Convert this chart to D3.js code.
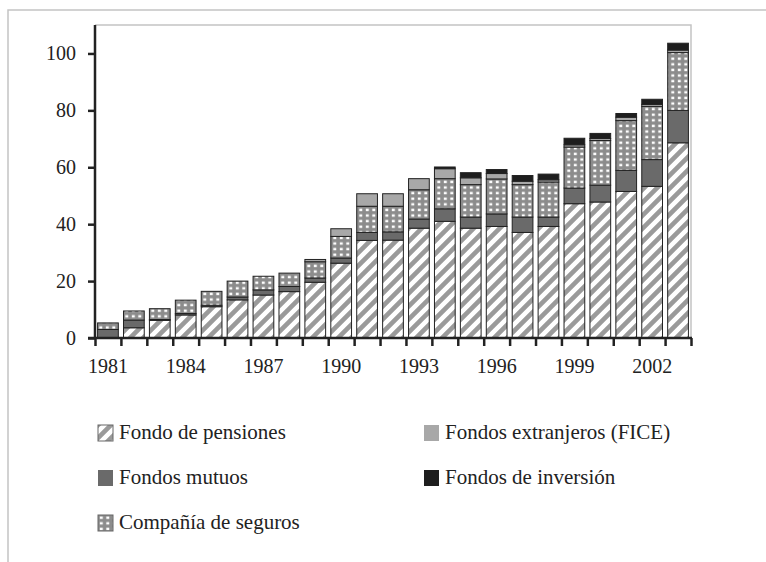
<!DOCTYPE html>
<html>
<head>
<meta charset="utf-8">
<script src="https://cdn.jsdelivr.net/npm/d3@7"></script>
<style>
  body { margin: 0; background: #fff; }
  svg { display: block; font-family: "Liberation Serif", "Times New Roman", serif; }
</style>
</head>
<body>
<svg></svg>
<script>
let width = 766, height = 562;

let svg = d3.select("svg")
    .attr("width", width)
    .attr("height", height)
    .attr("viewBox", "0 0 " + width + " " + height)

// data (approx.)
var years = d3.range(1981, 2004)
var pensiones = [0, 3.6, 6.2, 8.1, 11.0, 13.4, 15.1, 16.3, 19.6, 26.3, 34.3, 34.4, 38.6, 41.0, 38.6, 39.2, 37.1, 39.2, 47.2, 47.8, 51.5, 53.3, 68.6]
var mutuos = [3.0, 2.7, 0.3, 0.5, 0.5, 1.0, 1.8, 1.8, 1.5, 1.8, 2.8, 2.9, 3.2, 4.4, 3.9, 4.4, 5.4, 3.3, 5.5, 5.9, 7.4, 9.4, 11.4]
var seguros = [2.3, 3.2, 3.8, 4.7, 4.9, 5.6, 4.8, 4.7, 5.7, 7.6, 9.2, 9.0, 10.3, 10.6, 11.4, 12.3, 11.4, 12.3, 14.4, 15.7, 17.5, 18.7, 20.3]
var fice = [0, 0, 0, 0, 0, 0, 0, 0, 0.8, 2.7, 4.4, 4.4, 3.9, 3.5, 2.4, 1.9, 1.2, 0.8, 0.8, 0.7, 1.2, 0.7, 0.9]
var inversion = [0, 0, 0, 0, 0, 0, 0, 0, 0, 0, 0, 0, 0, 0.6, 1.8, 1.4, 2.0, 2.0, 2.3, 1.8, 1.3, 1.8, 2.4]

var yTicks = [0, 20, 40, 60, 80, 100]
var yearLabels = [1981, 1984, 1987, 1990, 1993, 1996, 1999, 2002]

var seriesKeys = ["pensiones", "mutuos", "seguros", "fice", "inversion"]
var seriesNames = {
    pensiones: "Fondo de pensiones",
    mutuos: "Fondos mutuos",
    seguros: "Compañía de seguros",
    fice: "Fondos extranjeros (FICE)",
    inversion: "Fondos de inversión"
}
var fills = {
    pensiones: "url(#hatch)",
    mutuos: "#6a6a6a",
    seguros: "url(#dots)",
    fice: "#a8a8a8",
    inversion: "#1e1e1e"
}

let table = years.map((yr, i) => ({
    year: yr,
    pensiones: pensiones[i],
    mutuos: mutuos[i],
    seguros: seguros[i],
    fice: fice[i],
    inversion: inversion[i]
}))

// patterns
let defs = svg.append("defs")
let hatch = defs.append("pattern")
    .attr("id", "hatch")
    .attr("patternUnits", "userSpaceOnUse")
    .attr("width", 13).attr("height", 13)
hatch.append("rect").attr("width", 13).attr("height", 13).attr("fill", "#fff")
hatch.append("path")
    .attr("d", "M-3,3 l6,-6 M0,13 l13,-13 M10,16 l6,-6")
    .attr("stroke", "#9a9a9a")
    .attr("stroke-width", 4.6)

let dots = defs.append("pattern")
    .attr("id", "dots")
    .attr("patternUnits", "userSpaceOnUse")
    .attr("width", 6.5).attr("height", 5.6)
dots.append("rect").attr("width", 6.5).attr("height", 5.6).attr("fill", "#8c8c8c")
dots.append("rect").attr("x", 1.8).attr("y", 1.5).attr("width", 3).attr("height", 2.4).attr("fill", "#fff")

// frame
svg.append("path")
    .attr("d", "M8,562 V10 H766")
    .attr("fill", "none")
    .attr("stroke", "#c4c4c4")
    .attr("stroke-width", 1.5)

let pLeft = 95, pRight = 691, pTop = 25, pBottom = 338

var x = d3.scaleBand()
    .domain(years)
    .range([pLeft, pRight])
    .paddingInner(0.2)
    .paddingOuter(0.1)

var xEdges = d3.scaleLinear()
    .domain([0, years.length])
    .range([pLeft, pRight])

var y = d3.scaleLinear()
    .domain([0, 110])
    .range([pBottom, pTop])

// plot box (light)
svg.append("path")
    .attr("d", "M" + pLeft + "," + pTop + " H" + pRight + " V" + pBottom)
    .attr("fill", "none")
    .attr("stroke", "#c4c4c4")
    .attr("stroke-width", 1.5)

let stack = d3.stack().keys(seriesKeys)(table)

svg.append("g")
    .attr("id", "bars")
    .selectAll("g")
    .data(stack)
    .enter()
    .append("g")
    .attr("fill", d => fills[d.key])
    .selectAll("rect")
    .data(d => d.filter(p => p[1] - p[0] > 0))
    .enter()
    .append("rect")
    .attr("x", d => x(d.data.year))
    .attr("width", x.bandwidth())
    .attr("y", d => y(d[1]))
    .attr("height", d => y(d[0]) - y(d[1]))
    .attr("stroke", "#222")
    .attr("stroke-width", 1)

// y axis
let yAxis = svg.append("g")
    .attr("transform", "translate(" + pLeft + ",0)")
    .call(d3.axisLeft(y).tickValues(yTicks).tickSize(7).tickPadding(12).tickFormat(d3.format("d")))
yAxis.select(".domain").remove()
yAxis.selectAll(".tick line").attr("stroke", "#222").attr("stroke-width", 2.5)
yAxis.selectAll("text")
    .attr("font-size", "20px")
    .attr("font-family", "Liberation Serif, serif")
    .attr("fill", "#222")
svg.append("line")
    .attr("x1", pLeft).attr("x2", pLeft)
    .attr("y1", pTop).attr("y2", pBottom + 1)
    .attr("stroke", "#222").attr("stroke-width", 2.5)

// x axis: ticks on the category edges
let xEdgeAxis = svg.append("g")
    .attr("transform", "translate(0," + pBottom + ")")
    .call(d3.axisBottom(xEdges).tickValues(d3.range(years.length + 1)).tickSize(8).tickFormat(""))
xEdgeAxis.select(".domain").remove()
xEdgeAxis.selectAll(".tick line").attr("stroke", "#222").attr("stroke-width", 2.5)
svg.append("line")
    .attr("x1", pLeft - 7).attr("x2", pRight + 1)
    .attr("y1", pBottom).attr("y2", pBottom)
    .attr("stroke", "#222").attr("stroke-width", 2.5)

let xAxis = svg.append("g")
    .attr("transform", "translate(0," + pBottom + ")")
    .call(d3.axisBottom(x).tickValues(yearLabels).tickSize(0))
xAxis.select(".domain").remove()
xAxis.selectAll("text")
    .attr("y", 35)
    .attr("dy", null)
    .attr("font-size", "20px")
    .attr("font-family", "Liberation Serif, serif")
    .attr("fill", "#222")

// legend
var legendItems = [
    { key: "pensiones", col: 0, row: 0 },
    { key: "fice", col: 1, row: 0 },
    { key: "mutuos", col: 0, row: 1 },
    { key: "inversion", col: 1, row: 1 },
    { key: "seguros", col: 0, row: 2 }
]
let legend = svg.append("g").attr("id", "legend")
let item = legend.selectAll("g")
    .data(legendItems)
    .enter()
    .append("g")
    .attr("transform", d => "translate(" + (d.col ? 424 : 98) + "," + (425 + d.row * 45) + ")")
item.append("rect")
    .attr("width", 15)
    .attr("height", 16)
    .attr("fill", d => fills[d.key])
    .attr("stroke", d => (d.key == "pensiones" || d.key == "seguros") ? "#666" : "none")
    .attr("stroke-width", 1)
item.append("text")
    .attr("x", 21)
    .attr("y", 14)
    .attr("font-size", "21px")
    .attr("fill", "#222")
    .text(d => seriesNames[d.key])
</script>
</body>
</html>
